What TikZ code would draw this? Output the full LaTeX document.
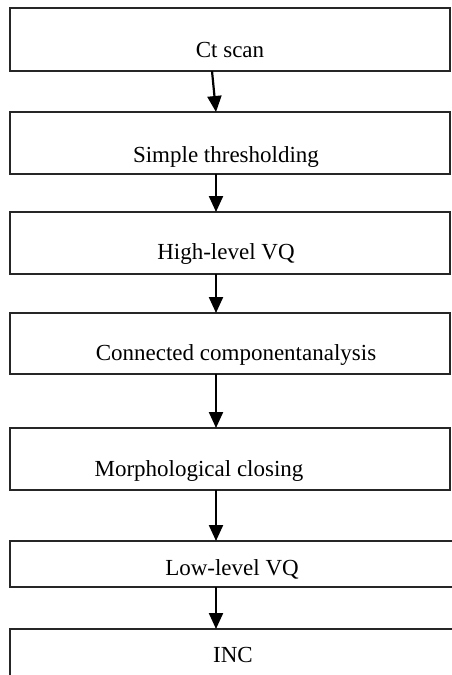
\documentclass[tikz,border=0pt]{standalone}
\usepackage{fontspec}
\setmainfont{Liberation Serif}
\usetikzlibrary{arrows.meta, positioning, calc}

\begin{document}
\begin{tikzpicture}[
    x=1pt, y=1pt,
    stage/.style={rectangle, draw=black!85, line width=1.5pt, outer sep=0pt, minimum width=440pt},
    caption/.style={anchor=base, inner sep=0pt, font=\fontsize{23pt}{27pt}\selectfont},
    flow/.style={line width=2.2pt, -{Triangle[width=14pt, length=16pt]}}
]
    \useasboundingbox (0,0) rectangle (451,-675);

    % Stages
    \node[stage, minimum height=63pt, anchor=north] (ct) at (230,-8) {};
    \node[stage, minimum height=62pt, below=41pt of ct] (thr) {};
    \node[stage, minimum height=62pt, below=38pt of thr] (hvq) {};
    \node[stage, minimum height=61pt, below=39pt of hvq] (cca) {};
    \node[stage, minimum height=62pt, below=54pt of cca] (mor) {};
    \node[stage, minimum width=460pt, minimum height=46pt, below=51pt of mor.south west, anchor=north west] (lvq) {};
    \node[stage, minimum width=460pt, minimum height=70pt, below=42pt of lvq.south west, anchor=north west] (inc) {};

    % Texts
    \node[caption] (ctt) at ($(ct.south west)+(220,14)$) {Ct scan};
    \node[caption] (thrt) at ($(thr.south west)+(216,12)$) {Simple thresholding};
    \node[caption] (hvqt) at ($(hvq.south west)+(216,15)$) {High-level VQ};
    \node[caption] (ccat) at ($(cca.south west)+(226,14)$) {Connected componentanalysis};
    \node[caption] (mort) at ($(mor.south west)+(189,14)$) {Morphological closing};
    \node[caption] (lvqt) at ($(lvq.south west)+(222,12)$) {Low-level VQ};
    \node[caption] (inct) at ($(inc.north west)+(223,-33)$) {INC};

    % Arrows
    \draw[flow] ([xshift=-18pt]ct.south) -- ([xshift=-14pt]thr.north);
    \draw[flow] ([xshift=-14pt]thr.south) -- ([xshift=-14pt]hvq.north);
    \draw[flow] ([xshift=-14pt]hvq.south) -- ([xshift=-14pt]cca.north);
    \draw[flow] ([xshift=-14pt]cca.south) -- ([xshift=-14pt]mor.north);
    \draw[flow] ([xshift=-14pt]mor.south) -- ([xshift=-24pt]lvq.north);
    \draw[flow] ([xshift=-24pt]lvq.south) -- ([xshift=-24pt]inc.north);
\end{tikzpicture}
\end{document}
